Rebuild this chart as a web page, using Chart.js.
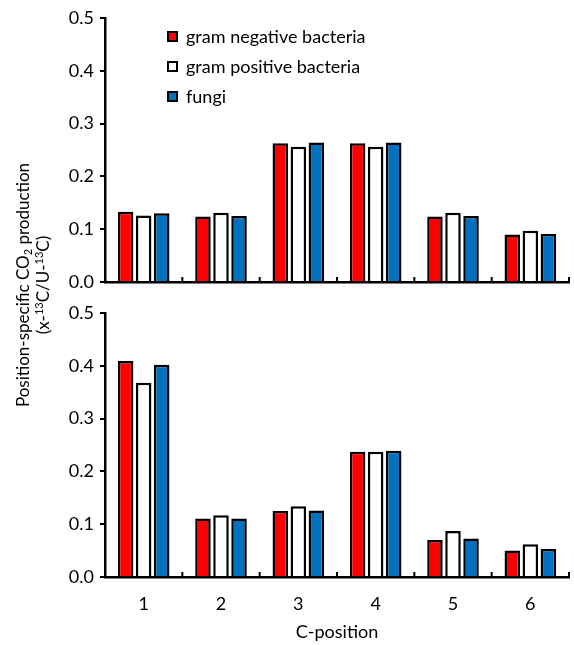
<!DOCTYPE html>
<html>
<head>
<meta charset="utf-8">
<script src="https://cdn.jsdelivr.net/npm/chart.js@4"></script>
<style>
  body { margin: 0; background: #fff; }
  #wrap { position: relative; width: 574px; height: 645px; font-family: Lato, sans-serif; color: #000; }
  #topBox { position: absolute; left: 0; top: 0; width: 574px; height: 300px; }
  #botBox { position: absolute; left: 0; top: 295px; width: 574px; height: 350px; }
  #ytitle { position: absolute; left: 33px; top: 285px; width: 300px; transform: translate(-50%, -50%) rotate(-90deg);
            text-align: center; font-size: 17px; line-height: 21px; white-space: nowrap; }
  #ytitle div { height: 20px; line-height: 20px; }
  #ytitle sub { font-size: 11px; vertical-align: -3px; line-height: 0; }
  #ytitle sup { font-size: 11px; vertical-align: 6px; line-height: 0; }
  #legend { position: absolute; left: 167px; top: 21px; font-size: 18px; }
  .row { height: 30px; display: flex; align-items: center; margin-top: 0; }
  .sw { width: 7px; height: 7px; border: 2px solid #000; margin-right: 8px; }
</style>
</head>
<body>
<div id="wrap">
  <div id="topBox"><canvas id="topChart"></canvas></div>
  <div id="botBox"><canvas id="botChart"></canvas></div>
  <div id="ytitle"><div>Position-specific CO<sub>2</sub> production</div><div>(x-<sup>13</sup>C/U-<sup>13</sup>C)</div></div>
  <div id="legend"></div>
</div>
<script>
// data
let categories = ['1', '2', '3', '4', '5', '6'];
let seriesNames = ['gram negative bacteria', 'gram positive bacteria', 'fungi'];
let seriesColors = ['#ff0000', '#ffffff', '#0070c0'];

let topGramNeg = [0.133, 0.124, 0.263, 0.263, 0.124, 0.090];
let topGramPos = [0.126, 0.131, 0.256, 0.256, 0.131, 0.097];
let topFungi   = [0.130, 0.125, 0.264, 0.264, 0.125, 0.091];

let botGramNeg = [0.409, 0.111, 0.125, 0.237, 0.070, 0.050];
let botGramPos = [0.368, 0.117, 0.134, 0.237, 0.087, 0.062];
let botFungi   = [0.402, 0.111, 0.126, 0.239, 0.073, 0.053];

let yMin = 0, yMax = 0.5, yStep = 0.1;
let xTitle = 'C-position';

Chart.defaults.font.family = 'Lato, sans-serif';
Chart.defaults.color = '#000';
Chart.defaults.animation = false;

// little upward marks between the categories on the x axis
let boundaryTicks = {
  id: 'boundaryTicks',
  afterDraw(chart) {
    let x = chart.scales.x, ctx = chart.ctx, y0 = chart.chartArea.bottom;
    ctx.save();
    ctx.strokeStyle = '#000';
    ctx.lineWidth = 2;
    for (let i = 1; i <= categories.length; i++) {
      let px = x.getPixelForValue(i - 0.5);
      ctx.beginPath();
      ctx.moveTo(px, y0);
      ctx.lineTo(px, y0 - 5);
      ctx.stroke();
    }
    ctx.restore();
  }
};

function makeSets(values) {
  return values.map((v, i) => ({
    label: seriesNames[i],
    data: v,
    backgroundColor: seriesColors[i],
    borderColor: '#000',
    borderWidth: 2.5,
    borderSkipped: 'bottom',
    categoryPercentage: 0.7,
    barPercentage: 0.86
  }));
}

function makeChart(id, values, showX, xHeight) {
  return new Chart(document.getElementById(id), {
    type: 'bar',
    data: { labels: categories, datasets: makeSets(values) },
    options: {
      responsive: true,
      maintainAspectRatio: false,
      layout: { padding: { top: 18, right: 5, left: 0, bottom: 0 } },
      plugins: { legend: { display: false }, tooltip: { enabled: false } },
      scales: {
        x: {
          grid: { display: false },
          border: { display: true, color: '#000', width: 2.5 },
          ticks: { display: showX, font: { size: 18 }, padding: 8 },
          title: { display: showX, text: xTitle, font: { size: 18 }, padding: { top: 0, bottom: 2 } },
          afterFit(s) { s.height = xHeight; }
        },
        y: {
          min: yMin, max: yMax,
          ticks: { stepSize: yStep, font: { size: 18 }, padding: 6, callback: v => v.toFixed(1) },
          grid: { drawOnChartArea: false, color: '#000', lineWidth: 2, tickLength: 5 },
          border: { display: true, color: '#000', width: 2.5 },
          afterFit(s) { s.width = 105; }
        }
      }
    },
    plugins: [boundaryTicks]
  });
}

makeChart('topChart', [topGramNeg, topGramPos, topFungi], false, 18);
makeChart('botChart', [botGramNeg, botGramPos, botFungi], true, 68);

// legend built from the series names
let leg = document.getElementById('legend');
seriesNames.forEach((n, i) => {
  let row = document.createElement('div');
  row.className = 'row';
  let sw = document.createElement('div');
  sw.className = 'sw';
  sw.style.background = seriesColors[i];
  row.appendChild(sw);
  row.appendChild(document.createTextNode(n));
  leg.appendChild(row);
});
</script>
</body>
</html>
